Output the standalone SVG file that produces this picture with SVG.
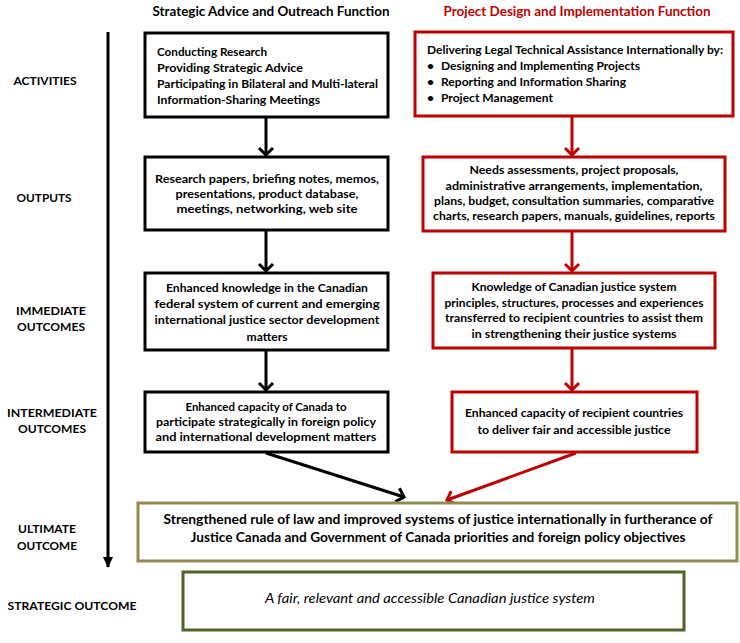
<svg xmlns="http://www.w3.org/2000/svg" width="740" height="643" viewBox="0 0 740 643">
<style>
text{font-family:Lato,"Open Sans","Liberation Sans",sans-serif;font-weight:bold;font-size:12px;fill:#000}
.c{text-anchor:middle}
.hd{font-size:13.5px}
.red{fill:#C00000}
.lab{font-size:12px;text-anchor:middle}
.bk{fill:#fff;stroke:#000;stroke-width:3}
.rd{fill:#fff;stroke:#C00000;stroke-width:3}
.ol{fill:#fff;stroke:#948A54;stroke-width:3}
.gr{fill:#fff;stroke:#4F6228;stroke-width:3}
.cb{stroke:#000;stroke-width:3;fill:none}
.cr{stroke:#C00000;stroke-width:3;fill:none}
.it{font-style:italic;font-weight:normal;font-size:13px}
.u{font-size:13px}
</style>
<defs>
<marker id="ab" markerUnits="userSpaceOnUse" markerWidth="20" markerHeight="20" refX="10" refY="10" orient="auto" viewBox="0 0 20 20">
<path d="M3,3 L10,10 L3,17" fill="none" stroke="#000" stroke-width="3"/>
</marker>
<marker id="ar" markerUnits="userSpaceOnUse" markerWidth="20" markerHeight="20" refX="10" refY="10" orient="auto" viewBox="0 0 20 20">
<path d="M3,3 L10,10 L3,17" fill="none" stroke="#C00000" stroke-width="3"/>
</marker>
<marker id="av" markerUnits="userSpaceOnUse" markerWidth="12" markerHeight="12" refX="10" refY="6" orient="auto" viewBox="0 0 12 12">
<path d="M0,1 L11,6 L0,11 Z" fill="#000"/>
</marker>
</defs>

<g id="headers">
<text class="hd c" x="271" y="16" textLength="237" lengthAdjust="spacingAndGlyphs">Strategic Advice and Outreach Function</text>
<text class="hd c red" x="577" y="16" textLength="267" lengthAdjust="spacingAndGlyphs">Project Design and Implementation Function</text>
</g>

<g id="labels">
<text class="lab" x="45" y="85" textLength="63" lengthAdjust="spacingAndGlyphs">ACTIVITIES</text>
<text class="lab" x="44" y="202" textLength="55" lengthAdjust="spacingAndGlyphs">OUTPUTS</text>
<text class="lab" x="51" y="315" textLength="70" lengthAdjust="spacingAndGlyphs">IMMEDIATE</text>
<text class="lab" x="51" y="331" textLength="68" lengthAdjust="spacingAndGlyphs">OUTCOMES</text>
<text class="lab" x="52" y="417" textLength="90" lengthAdjust="spacingAndGlyphs">INTERMEDIATE</text>
<text class="lab" x="52" y="433" textLength="68" lengthAdjust="spacingAndGlyphs">OUTCOMES</text>
<text class="lab" x="47" y="533" textLength="58" lengthAdjust="spacingAndGlyphs">ULTIMATE</text>
<text class="lab" x="47" y="550" textLength="60" lengthAdjust="spacingAndGlyphs">OUTCOME</text>
<text class="lab" x="72" y="610" textLength="129" lengthAdjust="spacingAndGlyphs">STRATEGIC OUTCOME</text>
</g>

<g id="connectors">
<line x1="108" y1="32" x2="108" y2="567" stroke="#000" stroke-width="3" marker-end="url(#av)"/>
<line class="cb" x1="266" y1="117" x2="266" y2="155" marker-end="url(#ab)"/>
<line class="cb" x1="266" y1="230" x2="266" y2="271" marker-end="url(#ab)"/>
<line class="cb" x1="266" y1="350" x2="266" y2="390" marker-end="url(#ab)"/>
<line class="cr" x1="572" y1="116" x2="572" y2="155" marker-end="url(#ar)"/>
<line class="cr" x1="572" y1="231" x2="572" y2="271" marker-end="url(#ar)"/>
<line class="cr" x1="572" y1="348" x2="572" y2="390" marker-end="url(#ar)"/>
<line class="cb" x1="266" y1="453" x2="404" y2="497" marker-end="url(#ab)"/>
<line class="cr" x1="576" y1="453" x2="447" y2="500" marker-end="url(#ar)"/>
</g>

<g id="b1">
<rect class="bk" x="145" y="33" width="243" height="84"/>
<text x="157" y="56" textLength="110" lengthAdjust="spacingAndGlyphs">Conducting Research</text>
<text x="157" y="72" textLength="146" lengthAdjust="spacingAndGlyphs">Providing Strategic Advice</text>
<text x="157" y="88" textLength="221" lengthAdjust="spacingAndGlyphs">Participating in Bilateral and Multi-lateral</text>
<text x="157" y="104" textLength="163" lengthAdjust="spacingAndGlyphs">Information-Sharing Meetings</text>
</g>

<g id="r1">
<rect class="rd" x="415" y="32" width="318" height="84"/>
<text x="427" y="54" textLength="296" lengthAdjust="spacingAndGlyphs">Delivering Legal Technical Assistance Internationally by:</text>
<text x="427" y="70">•</text><text x="441" y="70" textLength="199" lengthAdjust="spacingAndGlyphs">Designing and Implementing Projects</text>
<text x="427" y="86">•</text><text x="441" y="86" textLength="185" lengthAdjust="spacingAndGlyphs">Reporting and Information Sharing</text>
<text x="427" y="102">•</text><text x="441" y="102" textLength="112" lengthAdjust="spacingAndGlyphs">Project Management</text>
</g>

<g id="b2">
<rect class="bk" x="145" y="157" width="243" height="73"/>
<text class="c" x="267" y="183" textLength="224" lengthAdjust="spacingAndGlyphs">Research papers, briefing notes, memos,</text>
<text class="c" x="267" y="198" textLength="183" lengthAdjust="spacingAndGlyphs">presentations, product database,</text>
<text class="c" x="267" y="213" textLength="181" lengthAdjust="spacingAndGlyphs">meetings, networking, web site</text>
</g>

<g id="r2">
<rect class="rd" x="423" y="157" width="302" height="74"/>
<text class="c" x="574" y="174" textLength="209" lengthAdjust="spacingAndGlyphs">Needs assessments, project proposals,</text>
<text class="c" x="574" y="190" textLength="257" lengthAdjust="spacingAndGlyphs">administrative arrangements, implementation,</text>
<text class="c" x="574" y="205" textLength="280" lengthAdjust="spacingAndGlyphs">plans, budget, consultation summaries, comparative</text>
<text class="c" x="574" y="220" textLength="282" lengthAdjust="spacingAndGlyphs">charts, research papers, manuals, guidelines, reports</text>
</g>

<g id="b3">
<rect class="bk" x="145" y="273" width="243" height="77"/>
<text class="c" x="267" y="292" textLength="202" lengthAdjust="spacingAndGlyphs">Enhanced knowledge in the Canadian</text>
<text class="c" x="267" y="308" textLength="225" lengthAdjust="spacingAndGlyphs">federal system of current and emerging</text>
<text class="c" x="267" y="324" textLength="225" lengthAdjust="spacingAndGlyphs">international justice sector development</text>
<text class="c" x="267" y="341" textLength="41" lengthAdjust="spacingAndGlyphs">matters</text>
</g>

<g id="r3">
<rect class="rd" x="433" y="273" width="282" height="75"/>
<text class="c" x="574" y="291" textLength="205" lengthAdjust="spacingAndGlyphs">Knowledge of Canadian justice system</text>
<text class="c" x="574" y="307" textLength="259" lengthAdjust="spacingAndGlyphs">principles, structures, processes and experiences</text>
<text class="c" x="574" y="322" textLength="258" lengthAdjust="spacingAndGlyphs">transferred to recipient countries to assist them</text>
<text class="c" x="574" y="338" textLength="205" lengthAdjust="spacingAndGlyphs">in strengthening their justice systems</text>
</g>

<g id="b4">
<rect class="bk" x="145" y="392" width="243" height="60"/>
<text class="c" x="266" y="411" textLength="161" lengthAdjust="spacingAndGlyphs">Enhanced capacity of Canada to</text>
<text class="c" x="266" y="426" textLength="220" lengthAdjust="spacingAndGlyphs">participate strategically in foreign policy</text>
<text class="c" x="266" y="441" textLength="221" lengthAdjust="spacingAndGlyphs">and international development matters</text>
</g>

<g id="r4">
<rect class="rd" x="452" y="392" width="245" height="60"/>
<text class="c" x="574" y="417" textLength="218" lengthAdjust="spacingAndGlyphs">Enhanced capacity of recipient countries</text>
<text class="c" x="574" y="434" textLength="193" lengthAdjust="spacingAndGlyphs">to deliver fair and accessible justice</text>
</g>

<g id="ult">
<rect class="ol" x="138" y="503" width="599" height="58"/>
<text class="c u" x="438" y="524" textLength="549" lengthAdjust="spacingAndGlyphs">Strengthened rule of law and improved systems of justice internationally in furtherance of</text>
<text class="c u" x="438" y="542" textLength="495" lengthAdjust="spacingAndGlyphs">Justice Canada and Government of Canada priorities and foreign policy objectives</text>
</g>

<g id="strat">
<rect class="gr" x="183" y="572" width="501" height="58"/>
<text class="c it" x="430" y="603" textLength="330" lengthAdjust="spacingAndGlyphs">A fair, relevant and accessible Canadian  justice system</text>
</g>
</svg>
